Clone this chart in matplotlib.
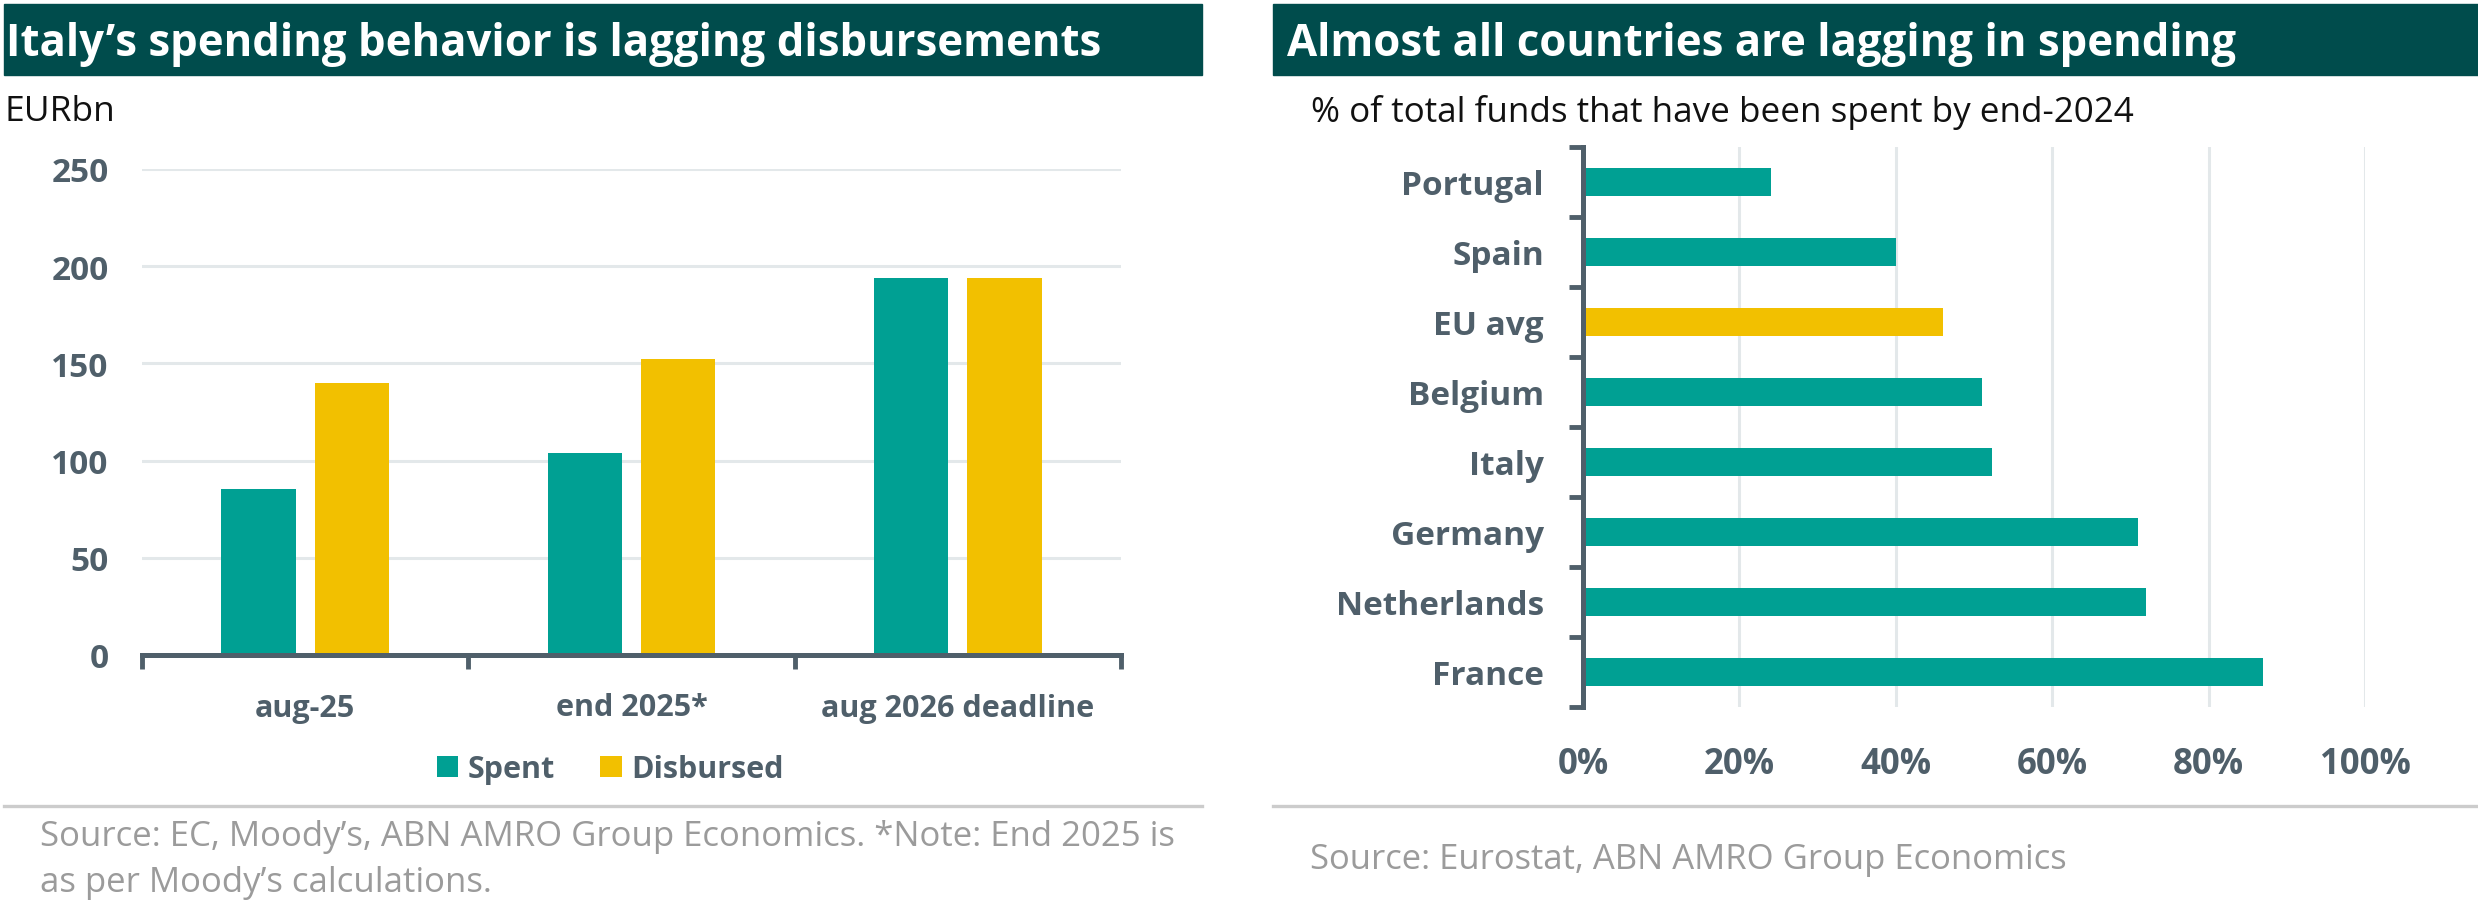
"""Render the two-panel RRF spending comparison (Italy and EU countries)."""

import matplotlib

matplotlib.use("Agg")

import matplotlib.pyplot as plt
import numpy as np
from matplotlib.patches import Rectangle


PERIODS = ["aug-25", "end 2025*", "aug 2026 deadline"]
SPENT = [85.5, 104, 194]
DISBURSED = [140, 152.5, 194]

COUNTRIES = ["Portugal", "Spain", "EU avg", "Belgium", "Italy", "Germany", "Netherlands", "France"]
SHARE_SPENT = [24, 40, 46, 51, 52.3, 71, 72, 87]

Y_TICKS = [0, 50, 100, 150, 200, 250]
X_TICKS = [0, 20, 40, 60, 80, 100]

TEAL = "#00a093"
YELLOW = "#f2c000"
HEADER = "#004c4c"
GREY_TEXT = "#4f5f6a"
GRID = "#e3e8ea"
SOURCE_GREY = "#9b9b9b"

W, H = 2478, 903

plt.rcParams["font.family"] = ["Open Sans", "DejaVu Sans"]


def fx(px):
    return px / W


def fy(px):
    return 1 - px / H


def header(fig, x0, x1, text, text_x):
    fig.patches.append(
        Rectangle((fx(x0), fy(76)), fx(x1 - x0), (76 - 5) / H,
                  transform=fig.transFigure, color=HEADER, zorder=0)
    )
    fig.text(fx(text_x), fy(56), text, color="white", fontsize=31.5,
             fontweight="bold", va="baseline", ha="left")


def main():
    fig = plt.figure(figsize=(W / 100, H / 100), dpi=100)
    fig.patch.set_facecolor("white")

    # ---- left panel
    header(fig, 4, 1202, "Italy\u2019s spending behavior is lagging disbursements", 6)
    fig.text(fx(4), fy(121), "EURbn", fontsize=25.5, color="#111111", va="baseline")

    ax = fig.add_axes([fx(142), fy(656), fx(1121 - 142), (656 - 170) / H])
    x = np.arange(len(PERIODS))
    ax.bar(x - 0.143, SPENT, width=0.227, color=TEAL, label="Spent", zorder=3)
    ax.bar(x + 0.143, DISBURSED, width=0.227, color=YELLOW, label="Disbursed", zorder=3)
    ax.set_xlim(-0.5, 2.5)
    ax.set_ylim(0, 250)
    ax.set_yticks(Y_TICKS)
    ax.set_xticks(x)
    ax.set_xticklabels(PERIODS)
    ax.set_xticks([-0.5, 0.5, 1.5, 2.5], minor=True)
    ax.tick_params(axis="x", which="major", length=0, pad=27, labelsize=22,
                   labelcolor=GREY_TEXT)
    ax.tick_params(axis="x", which="minor", length=10, width=3.5, color=GREY_TEXT,
                   direction="out")
    ax.tick_params(axis="y", length=0, pad=24, labelsize=24, labelcolor=GREY_TEXT)
    for lab in ax.get_xticklabels() + ax.get_yticklabels():
        lab.set_fontweight("bold")
    for side in ["top", "right", "left"]:
        ax.spines[side].set_visible(False)
    ax.spines["bottom"].set_color(GREY_TEXT)
    ax.spines["bottom"].set_linewidth(3.6)
    ax.spines["bottom"].set_zorder(4)
    ax.grid(axis="y", color=GRID, linewidth=2.2, zorder=0)
    ax.set_axisbelow(True)
    leg = ax.legend(loc="center", bbox_to_anchor=(0.478, -0.235), ncol=2, frameon=False,
                    handlelength=0.7, handleheight=0.7, handletextpad=0.3,
                    columnspacing=1.5, prop={"size": 22, "weight": "bold"})
    for t in leg.get_texts():
        t.set_color(GREY_TEXT)

    fig.add_artist(plt.Line2D([fx(4), fx(1202)], [fy(807), fy(807)], color="#cccccc",
                              linewidth=2.4, transform=fig.transFigure))
    fig.text(fx(40), fy(846),
             "Source: EC, Moody\u2019s, ABN AMRO Group Economics. *Note: End 2025 is",
             fontsize=25, color=SOURCE_GREY, va="baseline")
    fig.text(fx(40), fy(892), "as per Moody\u2019s calculations.",
             fontsize=25, color=SOURCE_GREY, va="baseline")

    # ---- right panel
    header(fig, 1273, 2478, "Almost all countries are lagging in spending", 1287)
    fig.text(fx(1311), fy(122), "% of total funds that have been spent by end-2024",
             fontsize=25.2, color="#111111", va="baseline")

    ax2 = fig.add_axes([fx(1583), fy(708), fx(2365 - 1583), (708 - 148) / H])
    y = np.arange(len(COUNTRIES))
    colors = [YELLOW if c == "EU avg" else TEAL for c in COUNTRIES]
    ax2.barh(y, SHARE_SPENT, height=0.4, color=colors, zorder=3)
    ax2.set_ylim(len(COUNTRIES) - 0.5, -0.5)
    ax2.set_xlim(0, 100)
    ax2.set_xticks(X_TICKS)
    ax2.set_xticklabels([f"{v}%" for v in X_TICKS])
    ax2.set_yticks(y)
    ax2.set_yticklabels(COUNTRIES)
    ax2.set_yticks(np.arange(len(COUNTRIES) + 1) - 0.5, minor=True)
    ax2.tick_params(axis="y", which="major", length=0, pad=28, labelsize=24,
                    labelcolor=GREY_TEXT)
    ax2.tick_params(axis="y", which="minor", length=10, width=3.5, color=GREY_TEXT)
    ax2.tick_params(axis="x", length=0, pad=28, labelsize=25, labelcolor=GREY_TEXT)
    for lab in ax2.get_xticklabels() + ax2.get_yticklabels():
        lab.set_fontweight("bold")
    for side in ["top", "right", "bottom"]:
        ax2.spines[side].set_visible(False)
    ax2.spines["left"].set_color(GREY_TEXT)
    ax2.spines["left"].set_linewidth(3.6)
    ax2.spines["left"].set_zorder(4)
    ax2.grid(axis="x", color=GRID, linewidth=2.2, zorder=0)
    ax2.set_axisbelow(True)

    fig.add_artist(plt.Line2D([fx(1273), fx(2478)], [fy(807), fy(807)], color="#cccccc",
                              linewidth=2.4, transform=fig.transFigure))
    fig.text(fx(1310), fy(869), "Source: Eurostat, ABN AMRO Group Economics",
             fontsize=24.9, color=SOURCE_GREY, va="baseline")

    fig.savefig("out.png", dpi=100)
    plt.close(fig)


if __name__ == "__main__":
    main()
